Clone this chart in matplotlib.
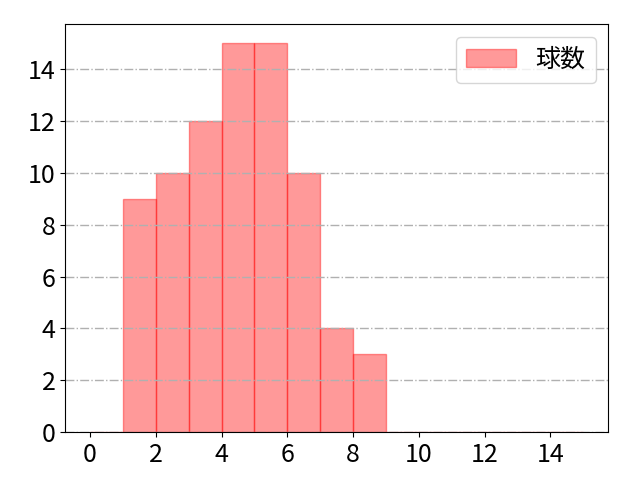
import numpy as np
import matplotlib
matplotlib.use('Agg')
import matplotlib.pyplot as plt

# フォント設定
plt.rcParams['font.family'] = ['Noto Sans CJK JP', 'DejaVu Sans']
plt.rcParams['font.size'] = 18

# 球数の分布 (ビンごとの度数)
bin_edges = list(range(0, 16))
counts = [0, 9, 10, 12, 15, 15, 10, 4, 3, 0, 0, 0, 0, 0, 0]
label = '球数'

fig, ax = plt.subplots(figsize=(6.4, 4.8), dpi=100)
ax.hist(bin_edges[:-1], bins=bin_edges, weights=counts,
        color='red', edgecolor='red', alpha=0.4, label=label)

ax.grid(axis='y', linestyle='-.', color='#b0b0b0', linewidth=1)
ax.set_xticks(range(0, 16, 2))
ax.set_yticks(range(0, 16, 2))
ax.legend(loc='upper right')

plt.subplots_adjust(left=0.102, right=0.95, top=0.95, bottom=0.1)
plt.savefig('out.png', dpi=100)
